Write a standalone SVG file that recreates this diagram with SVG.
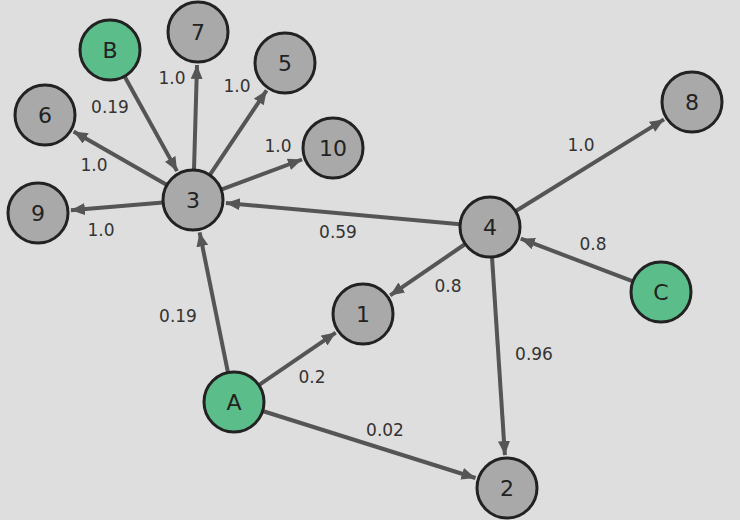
<svg xmlns="http://www.w3.org/2000/svg" width="740" height="520" viewBox="0 0 740 520">
<style>
.n{stroke:#222;stroke-width:3}
.g{fill:#a9a9a9}.gr{fill:#5bbd8a}
.t{font-family:"DejaVu Sans",sans-serif;font-size:22px;fill:#222;text-anchor:middle;dominant-baseline:central}
.l{font-family:"DejaVu Sans",sans-serif;font-size:17px;fill:#333;text-anchor:middle;dominant-baseline:central}
#edges line{stroke:#555;stroke-width:4;marker-end:url(#a)}
</style>
<defs><marker id="a" markerUnits="userSpaceOnUse" markerWidth="16" markerHeight="14" refX="14" refY="6" orient="auto"><path d="M0,0 L14,6 L0,12 Z" fill="#555"/></marker></defs>
<rect width="740" height="520" fill="#dedede"/>
<g id="edges">
<line x1="124.5" y1="76.3" x2="177" y2="171.1"/>
<line x1="194" y1="170" x2="197" y2="65"/>
<line x1="209.7" y1="175.1" x2="266.6" y2="90.4"/>
<line x1="167" y1="185" x2="73.6" y2="131.4"/>
<line x1="221.1" y1="189.6" x2="302" y2="159.5"/>
<line x1="163.1" y1="202.5" x2="70.9" y2="210.2"/>
<line x1="460.1" y1="224.3" x2="225.9" y2="203"/>
<line x1="515.5" y1="211.2" x2="664" y2="119.4"/>
<line x1="633" y1="281.4" x2="520.8" y2="238.7"/>
<line x1="465.3" y1="244" x2="390.2" y2="295.4"/>
<line x1="492" y1="257" x2="504.9" y2="455.1"/>
<line x1="228" y1="372.6" x2="199.6" y2="232.4"/>
<line x1="258.8" y1="385.1" x2="335.7" y2="332.6"/>
<line x1="262.6" y1="411" x2="475.5" y2="478"/>
</g>
<g id="labels">
<text class="l" x="110" y="107">0.19</text><text class="l" x="172" y="78">1.0</text>
<text class="l" x="237" y="86">1.0</text><text class="l" x="94" y="165">1.0</text>
<text class="l" x="278" y="146">1.0</text><text class="l" x="101" y="230">1.0</text>
<text class="l" x="338" y="232">0.59</text><text class="l" x="581" y="145">1.0</text>
<text class="l" x="593" y="244">0.8</text><text class="l" x="448" y="286">0.8</text>
<text class="l" x="534" y="354">0.96</text><text class="l" x="178" y="316">0.19</text>
<text class="l" x="312" y="377">0.2</text><text class="l" x="385" y="430">0.02</text>
</g>
<g id="nB"><circle class="n gr" cx="110" cy="50" r="30"/><text class="t" x="110" y="50">B</text></g>
<g id="n7"><circle class="n g" cx="198" cy="32" r="30"/><text class="t" x="198" y="32">7</text></g>
<g id="n5"><circle class="n g" cx="285" cy="63" r="30"/><text class="t" x="285" y="63">5</text></g>
<g id="n6"><circle class="n g" cx="45" cy="115" r="30"/><text class="t" x="45" y="115">6</text></g>
<g id="n10"><circle class="n g" cx="333" cy="148" r="30"/><text class="t" x="333" y="148">10</text></g>
<g id="n3"><circle class="n g" cx="193" cy="200" r="30"/><text class="t" x="193" y="200">3</text></g>
<g id="n9"><circle class="n g" cx="38" cy="213" r="30"/><text class="t" x="38" y="213">9</text></g>
<g id="n8"><circle class="n g" cx="692" cy="102" r="30"/><text class="t" x="692" y="102">8</text></g>
<g id="n4"><circle class="n g" cx="490" cy="227" r="30"/><text class="t" x="490" y="227">4</text></g>
<g id="nC"><circle class="n gr" cx="661" cy="292" r="30"/><text class="t" x="661" y="292">C</text></g>
<g id="n1"><circle class="n g" cx="363" cy="314" r="30"/><text class="t" x="363" y="314">1</text></g>
<g id="nA"><circle class="n gr" cx="234" cy="402" r="30"/><text class="t" x="234" y="402">A</text></g>
<g id="n2"><circle class="n g" cx="507" cy="488" r="30"/><text class="t" x="507" y="488">2</text></g>
</svg>
